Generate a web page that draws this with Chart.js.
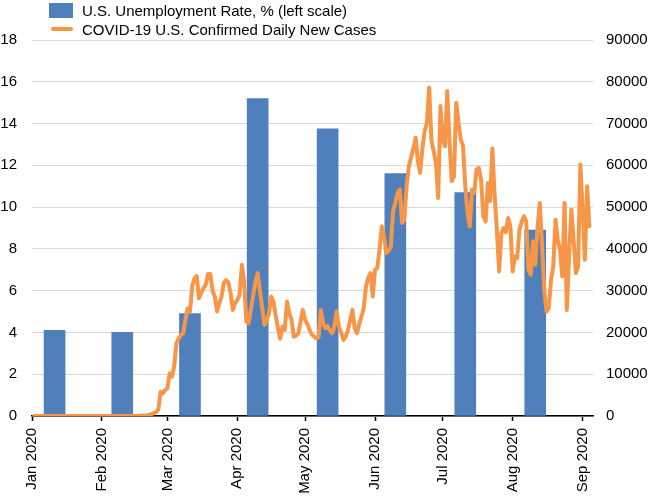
<!DOCTYPE html>
<html>
<head>
<meta charset="utf-8">
<script src="https://cdn.jsdelivr.net/npm/chart.js@4.4.1/dist/chart.umd.min.js"></script>
<style>
  html, body { margin: 0; padding: 0; background: #fff; }
  #wrap { position: relative; width: 650px; height: 500px; font-family: "Liberation Sans", Arial, sans-serif; }
  #chart { position: absolute; left: 0; top: 0; }
  .lg-box { position: absolute; left: 49px; top: 3px; width: 24px; height: 15px; background: #4f80bc; }
  .lg-line { position: absolute; left: 51px; top: 27px; width: 22px; height: 4px; border-radius: 2px; background: #f79646; }
  .lg-text { position: absolute; left: 82px; font-size: 15px; line-height: 19px; color: #000; white-space: nowrap; }
</style>
</head>
<body>
<div id="wrap">
  <canvas id="chart" width="650" height="500"></canvas>
  <div class="lg-box"></div>
  <div class="lg-text" id="lg1" style="top:1px"></div>
  <div class="lg-line"></div>
  <div class="lg-text" id="lg2" style="top:20px"></div>
</div>
<script>
// ---- data ----
const monthLabels = ['Jan 2020','Feb 2020','Mar 2020','Apr 2020','May 2020','Jun 2020','Jul 2020','Aug 2020','Sep 2020'];
const monthStartDates = ['2020-01-01','2020-02-01','2020-03-01','2020-04-01','2020-05-01','2020-06-01','2020-07-01','2020-08-01','2020-09-01'];

const barLabel = 'U.S. Unemployment Rate, % (left scale)';
const barDates = ['2020-01-11','2020-02-10','2020-03-11','2020-04-10','2020-05-11','2020-06-10','2020-07-11','2020-08-11'];
const unemploymentRate = [4.1, 4.0, 4.9, 15.2, 13.75, 11.6, 10.7, 8.9];

const lineLabel = 'COVID-19 U.S. Confirmed Daily New Cases';
const caseStartDate = '2020-01-02';
const dailyNewCases = [
  0,0,0,0,0,0,0,0,0,0,
  0,0,0,0,0,0,0,0,0,0,
  0,0,0,0,0,0,0,0,0,0,
  0,0,0,0,0,0,0,0,0,0,
  0,0,10,20,10,30,40,60,100,150,
  200,300,450,700,900,1600,5800,5400,6200,6600,
  10200,9400,11800,17400,18600,19400,19800,23000,25800,25000,
  31000,33000,33500,28200,29500,30600,31400,34000,34000,30000,
  28600,25000,27000,28600,31800,32500,32000,29400,25400,27000,
  27800,29000,36200,32200,22600,22200,25500,28800,32000,34200,
  30000,26000,21800,23000,24500,28600,27400,24000,21000,18500,
  21400,20600,27400,24600,23000,19000,19200,19800,22500,25400,
  23000,22000,20600,19500,19000,18600,18800,25400,22200,21000,
  21500,20500,19800,21500,25000,21400,20000,18200,19000,20500,
  23000,25400,21000,19800,22000,23800,25800,31000,33000,34200,
  28600,35000,35400,39800,45400,43000,39000,39500,40500,49000,
  51000,53400,54200,46200,47000,55000,59800,62000,64000,66600,
  61000,58200,64000,68200,70200,78600,66000,63400,60600,52200,
  74200,66000,64600,77800,66000,56200,57400,75000,70200,66200,
  64600,55000,48600,45400,54200,53400,59000,59400,56600,47800,
  46600,55800,51400,64000,53000,44600,34600,43800,45000,44000,
  47400,45400,34600,38200,37800,44600,46500,47800,46600,35000,
  33800,41800,36200,45000,51000,41400,30200,25000,25800,32600,
  35800,47000,42000,39800,33400,51000,25400,38200,49400,42200,
  34200,35800,60200,49400,37400,55000,45400
];

const leftTicks = { min: 0, max: 18, step: 2 };
const rightTicks = { min: 0, max: 90000, step: 10000 };
const axisEndDay = 248.6;

// ---- helpers ----
function dayOf(s) {
  const [y, m, d] = s.split('-').map(Number);
  return (Date.UTC(y, m - 1, d) - Date.UTC(2020, 0, 1)) / 86400000;
}
const monthDays = monthStartDates.map(dayOf);
const barPoints = barDates.map((d, i) => ({ x: dayOf(d), y: unemploymentRate[i] }));
const lineStart = dayOf(caseStartDate);
const linePoints = dailyNewCases.map((v, i) => ({ x: lineStart + i, y: v }));

document.getElementById('lg1').textContent = barLabel;
document.getElementById('lg2').textContent = lineLabel;

const font = { family: '"Liberation Sans", Arial, sans-serif', size: 15 };

new Chart(document.getElementById('chart'), {
  type: 'bar',
  data: {
    datasets: [
      {
        type: 'line', label: lineLabel, data: linePoints, yAxisID: 'y1',
        borderColor: '#f79646', backgroundColor: '#f79646', borderWidth: 4,
        pointRadius: 0, tension: 0, borderJoinStyle: 'round', borderCapStyle: 'round', order: 0
      },
      {
        type: 'bar', label: barLabel, data: barPoints, yAxisID: 'y',
        backgroundColor: '#4f80bc', borderWidth: 0, barThickness: 21, order: 1
      }
    ]
  },
  options: {
    responsive: false,
    animation: false,
    layout: { padding: { top: 40, right: 0, bottom: 0, left: 0 } },
    plugins: { legend: { display: false }, tooltip: { enabled: false } },
    scales: {
      x: {
        type: 'linear', min: 0, max: axisEndDay, offset: false,
        afterBuildTicks: (s) => { s.ticks = monthDays.map(v => ({ value: v })); },
        afterFit: (s) => { s.height = 84; s.paddingLeft = 0; s.paddingRight = 0; },
        ticks: {
          autoSkip: false, minRotation: 90, maxRotation: 90, padding: 7,
          color: '#000', font: font,
          callback: (v) => { const i = monthDays.indexOf(v); return i >= 0 ? monthLabels[i] : ''; }
        },
        grid: { drawOnChartArea: false, drawTicks: true, tickLength: 5, tickColor: '#000', tickWidth: 1.5, offset: false },
        border: { display: true, color: '#000', width: 1.5 }
      },
      y: {
        position: 'left', min: leftTicks.min, max: leftTicks.max,
        afterFit: (s) => { s.width = 32; s.paddingTop = 0; s.paddingBottom = 0; },
        ticks: { stepSize: leftTicks.step, color: '#000', font: font, padding: 15 },
        grid: { color: '#d9d9d9', lineWidth: 1, drawTicks: false },
        border: { display: false }
      },
      y1: {
        position: 'right', min: rightTicks.min, max: rightTicks.max,
        afterFit: (s) => { s.width = 57; s.paddingTop = 0; s.paddingBottom = 0; },
        ticks: { stepSize: rightTicks.step, color: '#000', font: font, padding: 13, callback: (v) => String(v) },
        grid: { display: false, drawTicks: false },
        border: { display: false }
      }
    }
  }
});
</script>
</body>
</html>
